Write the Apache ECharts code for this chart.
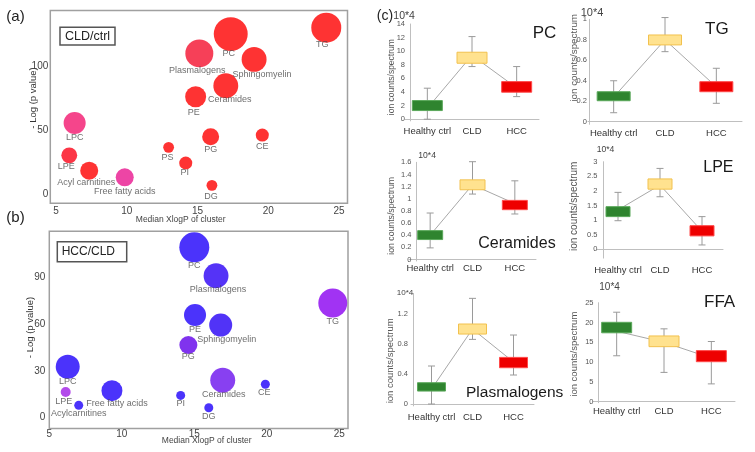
<!DOCTYPE html>
<html>
<head>
<meta charset="utf-8">
<script src="https://cdn.jsdelivr.net/npm/echarts@6/dist/echarts.min.js"></script>
<style>
    html, body { margin: 0; padding: 0; background: #fff; }
    #main { width: 755px; height: 452px; }
</style>
</head>
<body>
<div id="main"></div>
<script type="text/javascript">
    // ---- (a) CLD/ctrl bubbles ----
    let aNames = ['TG', 'PC', 'Plasmalogens', 'Sphingomyelin', 'Ceramides', 'PE', 'LPC', 'PG', 'CE', 'PS', 'LPE', 'PI', 'Acyl carnitines', 'Free fatty acids', 'DG'];
    let aXlogP = [24.1, 17.35, 15.13, 19.0, 17.0, 14.87, 6.32, 15.93, 19.58, 12.96, 5.94, 14.17, 7.35, 9.86, 16.02];
    let aLogP = [130.5, 125.5, 110.4, 105.7, 85.0, 76.4, 55.8, 45.1, 46.4, 36.8, 30.5, 24.5, 18.5, 13.3, 7.0];
    let aSize = [100, 128, 87, 69, 69, 49, 54, 32, 19, 13, 28, 19, 36, 36, 13];

    // ---- (b) HCC/CLD bubbles ----
    let bNames = ['PC', 'Plasmalogens', 'TG', 'PE', 'Sphingomyelin', 'PG', 'LPC', 'Ceramides', 'CE', 'LPE', 'Free fatty acids', 'PI', 'Acylcarnitines', 'DG'];
    let bXlogP = [15.0, 16.5, 24.55, 15.05, 16.82, 14.59, 6.27, 16.96, 19.9, 6.13, 9.32, 14.06, 7.03, 16.0];
    let bLogP = [109.2, 91.0, 73.5, 65.8, 59.4, 46.6, 32.7, 24.0, 21.4, 16.5, 17.3, 14.3, 7.9, 6.4];
    let bSize = [100, 69, 93, 54, 59, 36, 64, 69, 9, 11, 49, 9, 9, 9];

    // ---- (c) box data: [low, q1, q3, high] per group ----
    let groups = ['Healthy ctrl', 'CLD', 'HCC'];
    let pcBoxes = [[0.0, 1.27, 2.74, 4.56], [7.74, 8.23, 9.85, 12.15], [3.32, 3.97, 5.53, 7.74]];
    let pcLine = [1.6, 9.4, 4.6];
    let tgBoxes = [[0.088, 0.205, 0.293, 0.40], [0.684, 0.75, 0.847, 1.017], [0.18, 0.293, 0.391, 0.522]];
    let tgLine = [0.24, 0.80, 0.34];
    let cerBoxes = [[0.191, 0.328, 0.475, 0.765], [1.077, 1.148, 1.311, 1.61], [0.749, 0.82, 0.973, 1.295]];
    let cerLine = [0.40, 1.23, 0.92];
    let lpeBoxes = [[0.98, 1.12, 1.46, 1.95], [1.80, 2.06, 2.41, 2.77], [0.15, 0.46, 0.81, 1.12]];
    let lpeLine = [1.35, 2.2, 0.62];
    let plasBoxes = [[0.0, 0.173, 0.284, 0.507], [0.862, 0.933, 1.067, 1.409], [0.387, 0.484, 0.622, 0.92]];
    let plasLine = [0.2, 1.0, 0.56];
    let ffaBoxes = [[11.6, 17.4, 20.05, 22.6], [7.4, 13.9, 16.6, 18.4], [4.5, 10.1, 12.9, 15.2]];
    let ffaLine = [17.8, 15.0, 11.0];

    // ---- styles ----
    const FONT = '"Liberation Sans", Arial, sans-serif';
    let aColors = ['#fe0000', '#fe0000', '#f4102e', '#fe0000', '#fe0000', '#fe0000', '#f2166e', '#fe0000', '#fe0000', '#fe0000', '#fb0418', '#fe0000', '#fe0000', '#e9178e', '#fe0000'];
    let aLabelOff = [[-4, 17], [-2, 19], [-2, 17], [8, 15], [4, 14], [-2, 16], [0, 14], [0, 13], [0, 11], [-1, 10], [-3, 11], [-1, 10], [-3, 12], [0, 14], [-1, 11]];
    let bColors = ['#1e00fa', '#2a00f5', '#8a00f0', '#1e00fa', '#2500f5', '#6000ea', '#1e00fa', '#6a10ee', '#1e00fa', '#a01ee6', '#1e00fa', '#1e00fa', '#1e00fa', '#1e00fa'];
    let bLabelOff = [[0, 18], [2, 14], [0, 18], [0, 14], [6, 14], [0, 12], [0, 15], [1, 14], [-1, 8], [-2, 10], [5, 13], [0, 8], [0, 8], [0, 9]];
    let boxFill = ['#2f842f', '#ffe28f', '#ee0000'];
    let boxStroke = ['#5aa85a', '#f2c14e', '#ff4a4a'];

    let cPanels = [
        {title: 'PC', boxes: pcBoxes, line: pcLine, min: -0.25, max: 14, step: 0.25, labelStep: 2,
            left: 405, top: 24, width: 134, height: 96.9, yOff: -5, boxW: 30, catMargin: 5, yMargin: 5,
            tx: 532.7, ty: 33.3, ts: 17, ux: 393.3, uy: 16, us: 10.5, nx: 392, ny: 77.2, ns: 8.5},
        {title: 'TG', boxes: tgBoxes, line: tgLine, min: -0.025, max: 1, step: 0.025, labelStep: 0.2,
            left: 588, top: 19.3, width: 154, height: 105, yOff: -1, boxW: 33, catMargin: 4, yMargin: 2,
            tx: 705, ty: 29.3, ts: 17, ux: 580.7, uy: 13.3, us: 11, nx: 574.5, ny: 57.8, ns: 9.8},
        {title: 'Ceramides', boxes: cerBoxes, line: cerLine, min: -0.025, max: 1.6, step: 0.025, labelStep: 0.2,
            left: 409, top: 162.3, width: 127, height: 98.7, yOff: -7.5, boxW: 25, catMargin: 2, yMargin: 5,
            tx: 478.3, ty: 243.3, ts: 16, ux: 418.3, uy: 155.7, us: 8.6, nx: 392, ny: 215.8, ns: 8.7},
        {title: 'LPE', boxes: lpeBoxes, line: lpeLine, min: -0.3, max: 3, step: 0.1, labelStep: 0.5,
            left: 597, top: 161.7, width: 126, height: 96.4, yOff: -6, boxW: 24, catMargin: 7, yMargin: 5.5,
            tx: 703.3, ty: 167.3, ts: 16, ux: 596.7, uy: 150, us: 8.6, nx: 574, ny: 206.3, ns: 10},
        {title: 'Plasmalogens', boxes: plasBoxes, line: plasLine, min: -0.025, max: 1.475, step: 0.025, labelStep: 0.4,
            left: 411, top: 293.4, width: 123, height: 112.5, yOff: -2, boxW: 28, catMargin: 6, yMargin: 5,
            tx: 466, ty: 392.7, ts: 15.5, ux: 396.7, uy: 292.3, us: 8.1, nx: 390.5, ny: 360.8, ns: 9.5},
        {title: 'FFA', boxes: ffaBoxes, line: ffaLine, min: -0.25, max: 25, step: 0.25, labelStep: 5,
            left: 593, top: 302.7, width: 142, height: 100, yOff: -5, boxW: 30, catMargin: 4, yMargin: 4.5,
            tx: 704, ty: 302.7, ts: 17, ux: 599.3, uy: 287.3, us: 10, nx: 574.5, ny: 354.2, ns: 9.5}
    ];

    function isMult(v, s) {
        let r = v / s;
        return Math.abs(r - Math.round(r)) < 1e-6 && v > -1e-9;
    }

    function fmtStep(s) {
        return function (v) {
            return isMult(v, s) ? String(Math.round(v * 1000) / 1000) : '';
        };
    }

    function txt(s, x, y, size, align, rot, color) {
        let el = {
            type: 'text', x: x, y: y,
            style: {
                text: s, fill: color || '#333', font: size + 'px ' + FONT,
                align: align || 'center', verticalAlign: 'middle',
                textAlign: align || 'center', textVerticalAlign: 'middle'
            }
        };
        if (rot) el.rotation = rot;
        return el;
    }

    function bubbleData(names, xs, ys, sizes, colors, offs) {
        return names.map(function (n, i) {
            return {
                name: n, value: [xs[i], ys[i], sizes[i]],
                itemStyle: {color: colors[i]},
                label: {offset: offs[i]}
            };
        });
    }

    function boxRender(boxW) {
        return function (params, api) {
            let x = api.value(0);
            let lo = api.coord([x, api.value(1)]);
            let q1 = api.coord([x, api.value(2)]);
            let q3 = api.coord([x, api.value(3)]);
            let hi = api.coord([x, api.value(4)]);
            let cap = 7;
            let wStyle = {stroke: '#9a9a9a', lineWidth: 1};
            return {
                type: 'group', children: [
                    {type: 'line', shape: {x1: lo[0], y1: lo[1], x2: hi[0], y2: hi[1]}, style: wStyle},
                    {type: 'line', shape: {x1: lo[0] - cap / 2, y1: lo[1], x2: lo[0] + cap / 2, y2: lo[1]}, style: wStyle},
                    {type: 'line', shape: {x1: hi[0] - cap / 2, y1: hi[1], x2: hi[0] + cap / 2, y2: hi[1]}, style: wStyle},
                    {
                        type: 'rect',
                        shape: {x: q3[0] - boxW / 2, y: q3[1], width: boxW, height: q1[1] - q3[1]},
                        style: {fill: boxFill[x], stroke: boxStroke[x], lineWidth: 1}
                    }
                ]
            };
        };
    }

    let grids = [
        {left: 50.3, top: 10.5, width: 297.2, height: 192.7, show: true, borderColor: '#a0a0a0', borderWidth: 1.5},
        {left: 49.3, top: 231.3, width: 298.7, height: 197.3, show: true, borderColor: '#a0a0a0', borderWidth: 1.5}
    ];
    let xAxes = [
        {gridIndex: 0, type: 'value', min: 4.6, max: 25.6, interval: 0.2, axisLine: {show: false}, axisTick: {show: false}, splitLine: {show: false},
            axisLabel: {formatter: fmtStep(5), fontSize: 10, color: '#444', fontFamily: FONT, margin: 3}},
        {gridIndex: 1, type: 'value', min: 5, max: 25.6, interval: 0.2, axisLine: {show: false}, axisTick: {show: false}, splitLine: {show: false},
            axisLabel: {formatter: fmtStep(5), fontSize: 10, color: '#444', fontFamily: FONT, margin: 1}}
    ];
    let yAxes = [
        {gridIndex: 0, type: 'value', min: -7, max: 144, interval: 1, axisLine: {show: false}, axisTick: {show: false}, splitLine: {show: false},
            axisLabel: {formatter: fmtStep(50), fontSize: 10, color: '#444', fontFamily: FONT, margin: 2}},
        {gridIndex: 1, type: 'value', min: -7, max: 119.5, interval: 1, axisLine: {show: false}, axisTick: {show: false}, splitLine: {show: false},
            axisLabel: {formatter: fmtStep(30), fontSize: 10, color: '#444', fontFamily: FONT, margin: 4}}
    ];
    let bubbleLabel = {show: true, position: 'inside', formatter: '{b}', color: '#4a4a4a', fontSize: 9, fontFamily: FONT};
    let series = [
        {type: 'scatter', xAxisIndex: 0, yAxisIndex: 0, symbolSize: function (v) { return 3 * Math.sqrt(v[2]); },
            label: bubbleLabel, data: bubbleData(aNames, aXlogP, aLogP, aSize, aColors, aLabelOff)},
        {type: 'scatter', xAxisIndex: 1, yAxisIndex: 1, symbolSize: function (v) { return 3 * Math.sqrt(v[2]); },
            label: bubbleLabel, data: bubbleData(bNames, bXlogP, bLogP, bSize, bColors, bLabelOff)}
    ];
    let graphics = [
        txt('(a)', 15.5, 16.5, 15, 'center', 0, '#222'),
        txt('(b)', 15.5, 218, 15, 'center', 0, '#222'),
        txt('(c)', 385, 16, 14, 'center', 0, '#222'),
        {type: 'rect', shape: {x: 60, y: 27.3, width: 55, height: 17.7}, style: {fill: '#fff', stroke: '#555', lineWidth: 1.5}},
        txt('CLD/ctrl', 87.5, 36.2, 12.5, 'center', 0, '#222'),
        {type: 'rect', shape: {x: 57.3, y: 241.7, width: 69.4, height: 20}, style: {fill: '#fff', stroke: '#555', lineWidth: 1.5}},
        txt('HCC/CLD', 61.7, 251.7, 12, 'left', 0, '#222'),
        txt('Median XlogP of cluster', 180.7, 220, 8.5, 'center', 0, '#444'),
        txt('Median XlogP of cluster', 206.7, 440.7, 8.5, 'center', 0, '#444'),
        txt('- Log (p value)', 33, 98, 9.5, 'center', Math.PI / 2, '#333'),
        txt('- Log (p value)', 30, 327.5, 9.5, 'center', Math.PI / 2, '#333')
    ];

    cPanels.forEach(function (p, k) {
        let gi = k + 2;
        grids.push({left: p.left, top: p.top, width: p.width, height: p.height});
        xAxes.push({
            gridIndex: gi, type: 'category', data: groups, boundaryGap: true,
            axisLine: {lineStyle: {color: '#bfbfbf', width: 1}}, axisTick: {show: false},
            axisLabel: {fontSize: 9.5, color: '#333', fontFamily: FONT, margin: p.catMargin, interval: 0}
        });
        yAxes.push({
            gridIndex: gi, type: 'value', min: p.min, max: p.max, interval: p.step, offset: p.yOff,
            axisLine: {show: true, lineStyle: {color: '#bfbfbf', width: 1}}, axisTick: {show: false}, splitLine: {show: false},
            axisLabel: {formatter: fmtStep(p.labelStep), fontSize: 7.5, color: '#555', fontFamily: FONT, margin: p.yMargin}
        });
        series.push({
            type: 'line', xAxisIndex: gi, yAxisIndex: gi, data: p.line, symbol: 'none', z: 1,
            lineStyle: {color: '#a8a8a8', width: 1}
        });
        series.push({
            type: 'custom', xAxisIndex: gi, yAxisIndex: gi, z: 2,
            renderItem: boxRender(p.boxW),
            encode: {x: 0, y: [1, 2, 3, 4]},
            data: p.boxes.map(function (b, i) { return [i, b[0], b[1], b[2], b[3]]; })
        });
        graphics.push(txt(p.title, p.tx, p.ty, p.ts, 'left', 0, '#1a1a1a'));
        graphics.push(txt('10*4', p.ux, p.uy, p.us, 'left', 0, '#444'));
        graphics.push(txt('ion counts/spectrum', p.nx, p.ny, p.ns, 'center', Math.PI / 2, '#555'));
    });

    let myChart = echarts.init(document.getElementById('main'));
    let option = {
        animation: false,
        backgroundColor: '#fff',
        grid: grids,
        xAxis: xAxes,
        yAxis: yAxes,
        series: series,
        graphic: {elements: graphics}
    };
    myChart.setOption(option);
</script>
</body>
</html>
